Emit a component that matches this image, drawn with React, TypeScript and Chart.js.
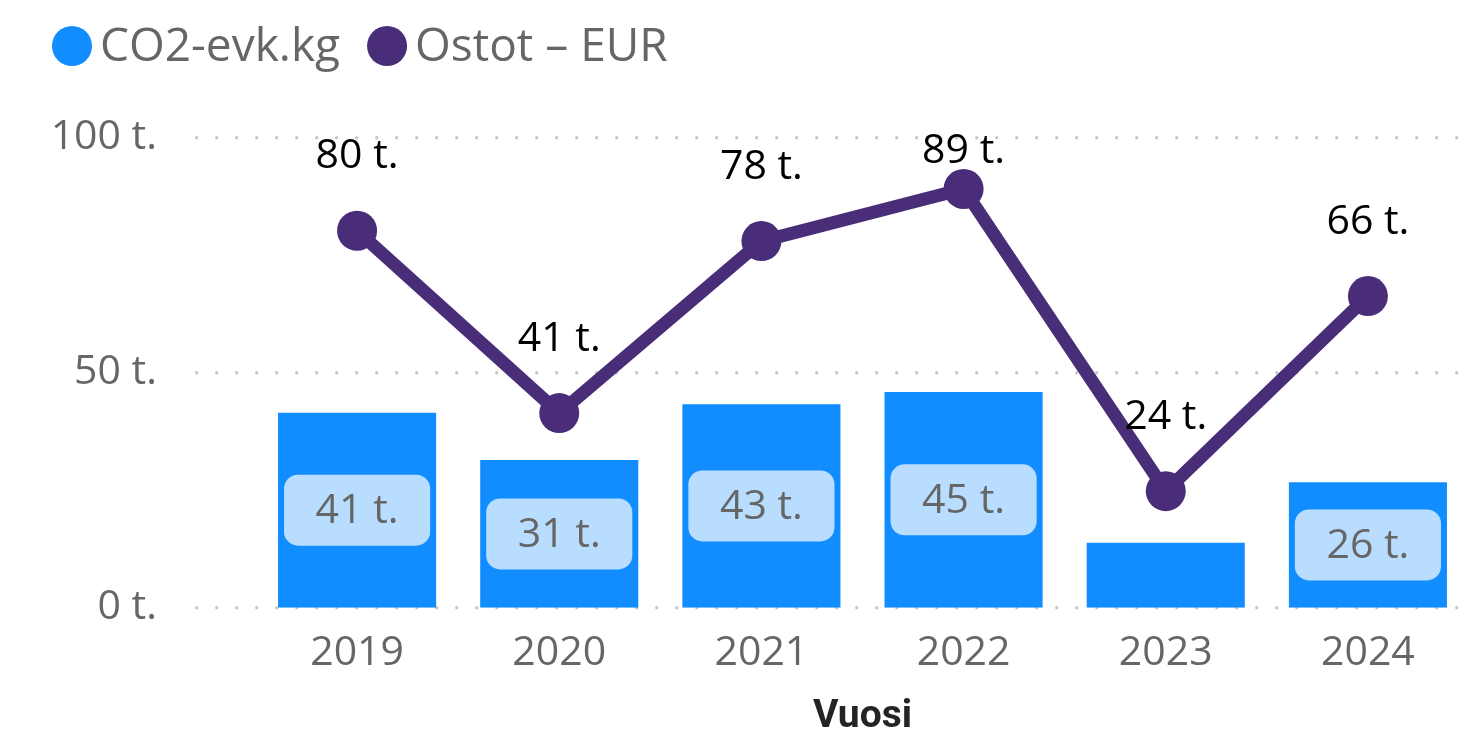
import React, { useEffect, useRef } from "react";
import { Chart, registerables } from "chart.js";

Chart.register(...registerables);

const years = ["2019", "2020", "2021", "2022", "2023", "2024"];
const co2Values = [41.5, 31.4, 43.3, 45.9, 13.8, 26.7];
const purchaseValues = [80.2, 41.4, 78.0, 89.1, 24.8, 66.3];
const yTickValues = [0, 50, 100];
const co2Name = "CO2-evk.kg";
const purchaseName = "Ostot – EUR";
const xAxisTitle = "Vuosi";

const BLUE = "#118DFF";
const PURPLE = "#4A2D78";
const GRAY = "#666666";
const FONT = "'Open Sans', 'Noto Sans', sans-serif";

const fmt = (v: number) => Math.floor(v) + " t.";

const gridDots = {
  id: "gridDots",
  beforeDatasetsDraw(chart: any) {
    const { ctx } = chart;
    const ys = chart.scales.y;
    ctx.save();
    ctx.fillStyle = "#C8C6C4";
    for (const t of ys.ticks) {
      const py = ys.getPixelForValue(t.value);
      for (let x = 196.7; x < chart.width; x += 20) {
        ctx.beginPath();
        ctx.arc(x, py, 1.7, 0, Math.PI * 2);
        ctx.fill();
      }
    }
    ctx.restore();
  },
};

const barLabels = {
  id: "barLabels",
  afterDatasetDraw(chart: any, args: any) {
    if (args.index !== 1) return;
    const { ctx } = chart;
    const meta = chart.getDatasetMeta(1);
    const ds = chart.data.datasets[1];
    ctx.save();
    meta.data.forEach((bar: any, i: number) => {
      const { x, y, base, width } = bar.getProps(["x", "y", "base", "width"], true);
      const h = base - y;
      const boxH = 71;
      if (h < boxH + 4) return;
      const left = x - width / 2 + 6;
      const w = width - 12;
      const cy = (y + base) / 2;
      ctx.fillStyle = "#B8DDFF";
      ctx.beginPath();
      (ctx as any).roundRect(left, cy - boxH / 2, w, boxH, 14);
      ctx.fill();
      ctx.fillStyle = GRAY;
      ctx.font = `41px ${FONT}`;
      ctx.textAlign = "center";
      ctx.textBaseline = "middle";
      ctx.fillText(fmt(ds.data[i]), x, cy + 1);
    });
    ctx.restore();
  },
};

const lineLabels = {
  id: "lineLabels",
  afterDatasetsDraw(chart: any) {
    const { ctx } = chart;
    const meta = chart.getDatasetMeta(0);
    const ds = chart.data.datasets[0];
    ctx.save();
    ctx.fillStyle = "#000000";
    ctx.font = `41px ${FONT}`;
    ctx.textAlign = "center";
    ctx.textBaseline = "middle";
    meta.data.forEach((p: any, i: number) => {
      const ty = Math.max(p.y - 74, chart.chartArea.top + 14);
      ctx.fillText(fmt(ds.data[i]), p.x, ty);
    });
    ctx.restore();
  },
};

const customLegend = {
  id: "customLegend",
  afterDraw(chart: any) {
    const { ctx } = chart;
    const items = [chart.data.datasets[1], chart.data.datasets[0]];
    ctx.save();
    ctx.font = `46px ${FONT}`;
    ctx.textBaseline = "middle";
    ctx.textAlign = "left";
    let x = 52;
    const cy = 46;
    for (const ds of items) {
      ctx.fillStyle = ds.type === "line" ? ds.borderColor : ds.backgroundColor;
      ctx.beginPath();
      ctx.arc(x + 20, cy, 20, 0, Math.PI * 2);
      ctx.fill();
      ctx.fillStyle = GRAY;
      ctx.fillText(ds.label, x + 48, cy + 2);
      x = x + 48 + ctx.measureText(ds.label).width + 27;
    }
    ctx.restore();
  },
};

export default function App() {
  const ref = useRef<HTMLCanvasElement | null>(null);

  useEffect(() => {
    if (!ref.current) return;
    const chart = new Chart(ref.current, {
      type: "bar",
      data: {
        labels: years,
        datasets: [
          {
            type: "line",
            label: purchaseName,
            data: purchaseValues,
            borderColor: PURPLE,
            backgroundColor: PURPLE,
            borderWidth: 13,
            pointRadius: 20,
            pointHoverRadius: 20,
            pointBackgroundColor: PURPLE,
            pointBorderWidth: 0,
            tension: 0,
            order: 0,
          } as any,
          {
            type: "bar",
            label: co2Name,
            data: co2Values,
            backgroundColor: BLUE,
            barPercentage: 0.782,
            categoryPercentage: 1,
            order: 1,
          } as any,
        ],
      },
      options: {
        responsive: false,
        animation: false,
        layout: { autoPadding: false, padding: { top: 137.7, right: 7, left: 0, bottom: 0 } },
        plugins: {
          legend: { display: false },
          tooltip: { enabled: false },
        },
        scales: {
          x: {
            type: "category",
            offset: true,
            grid: { display: false, drawTicks: false },
            border: { display: false },
            ticks: {
              color: GRAY,
              font: { family: FONT, size: 41 },
              padding: 21,
              maxRotation: 0,
            },
            title: {
              display: true,
              text: xAxisTitle,
              color: "#252423",
              font: { family: "Roboto, sans-serif", size: 39, weight: "bold", lineHeight: 0.6 },
              padding: { top: 0, bottom: 0 },
            },
            afterFit(scale: any) {
              scale.height = 121.3;
              scale.paddingLeft = 0;
              scale.paddingRight = 0;
            },
          },
          y: {
            type: "linear",
            min: 0,
            max: 100,
            afterBuildTicks(scale: any) {
              scale.ticks = yTickValues.map((v) => ({ value: v }));
            },
            grid: { display: false, drawTicks: false },
            border: { display: false },
            ticks: {
              color: GRAY,
              font: { family: FONT, size: 41 },
              padding: 99,
              callback: (v: any) => v + " t.",
            },
            afterFit(scale: any) {
              scale.width = 256;
              scale.paddingTop = 0;
              scale.paddingBottom = 0;
            },
          },
        },
      },
      plugins: [gridDots, barLabels, lineLabels, customLegend],
    });
    return () => chart.destroy();
  }, []);

  return (
    <div style={{ position: "fixed", left: 0, top: 0, width: 1476, height: 729, background: "#ffffff" }}>
      <canvas ref={ref} width={1476} height={729} style={{ display: "block" }} />
    </div>
  );
}
